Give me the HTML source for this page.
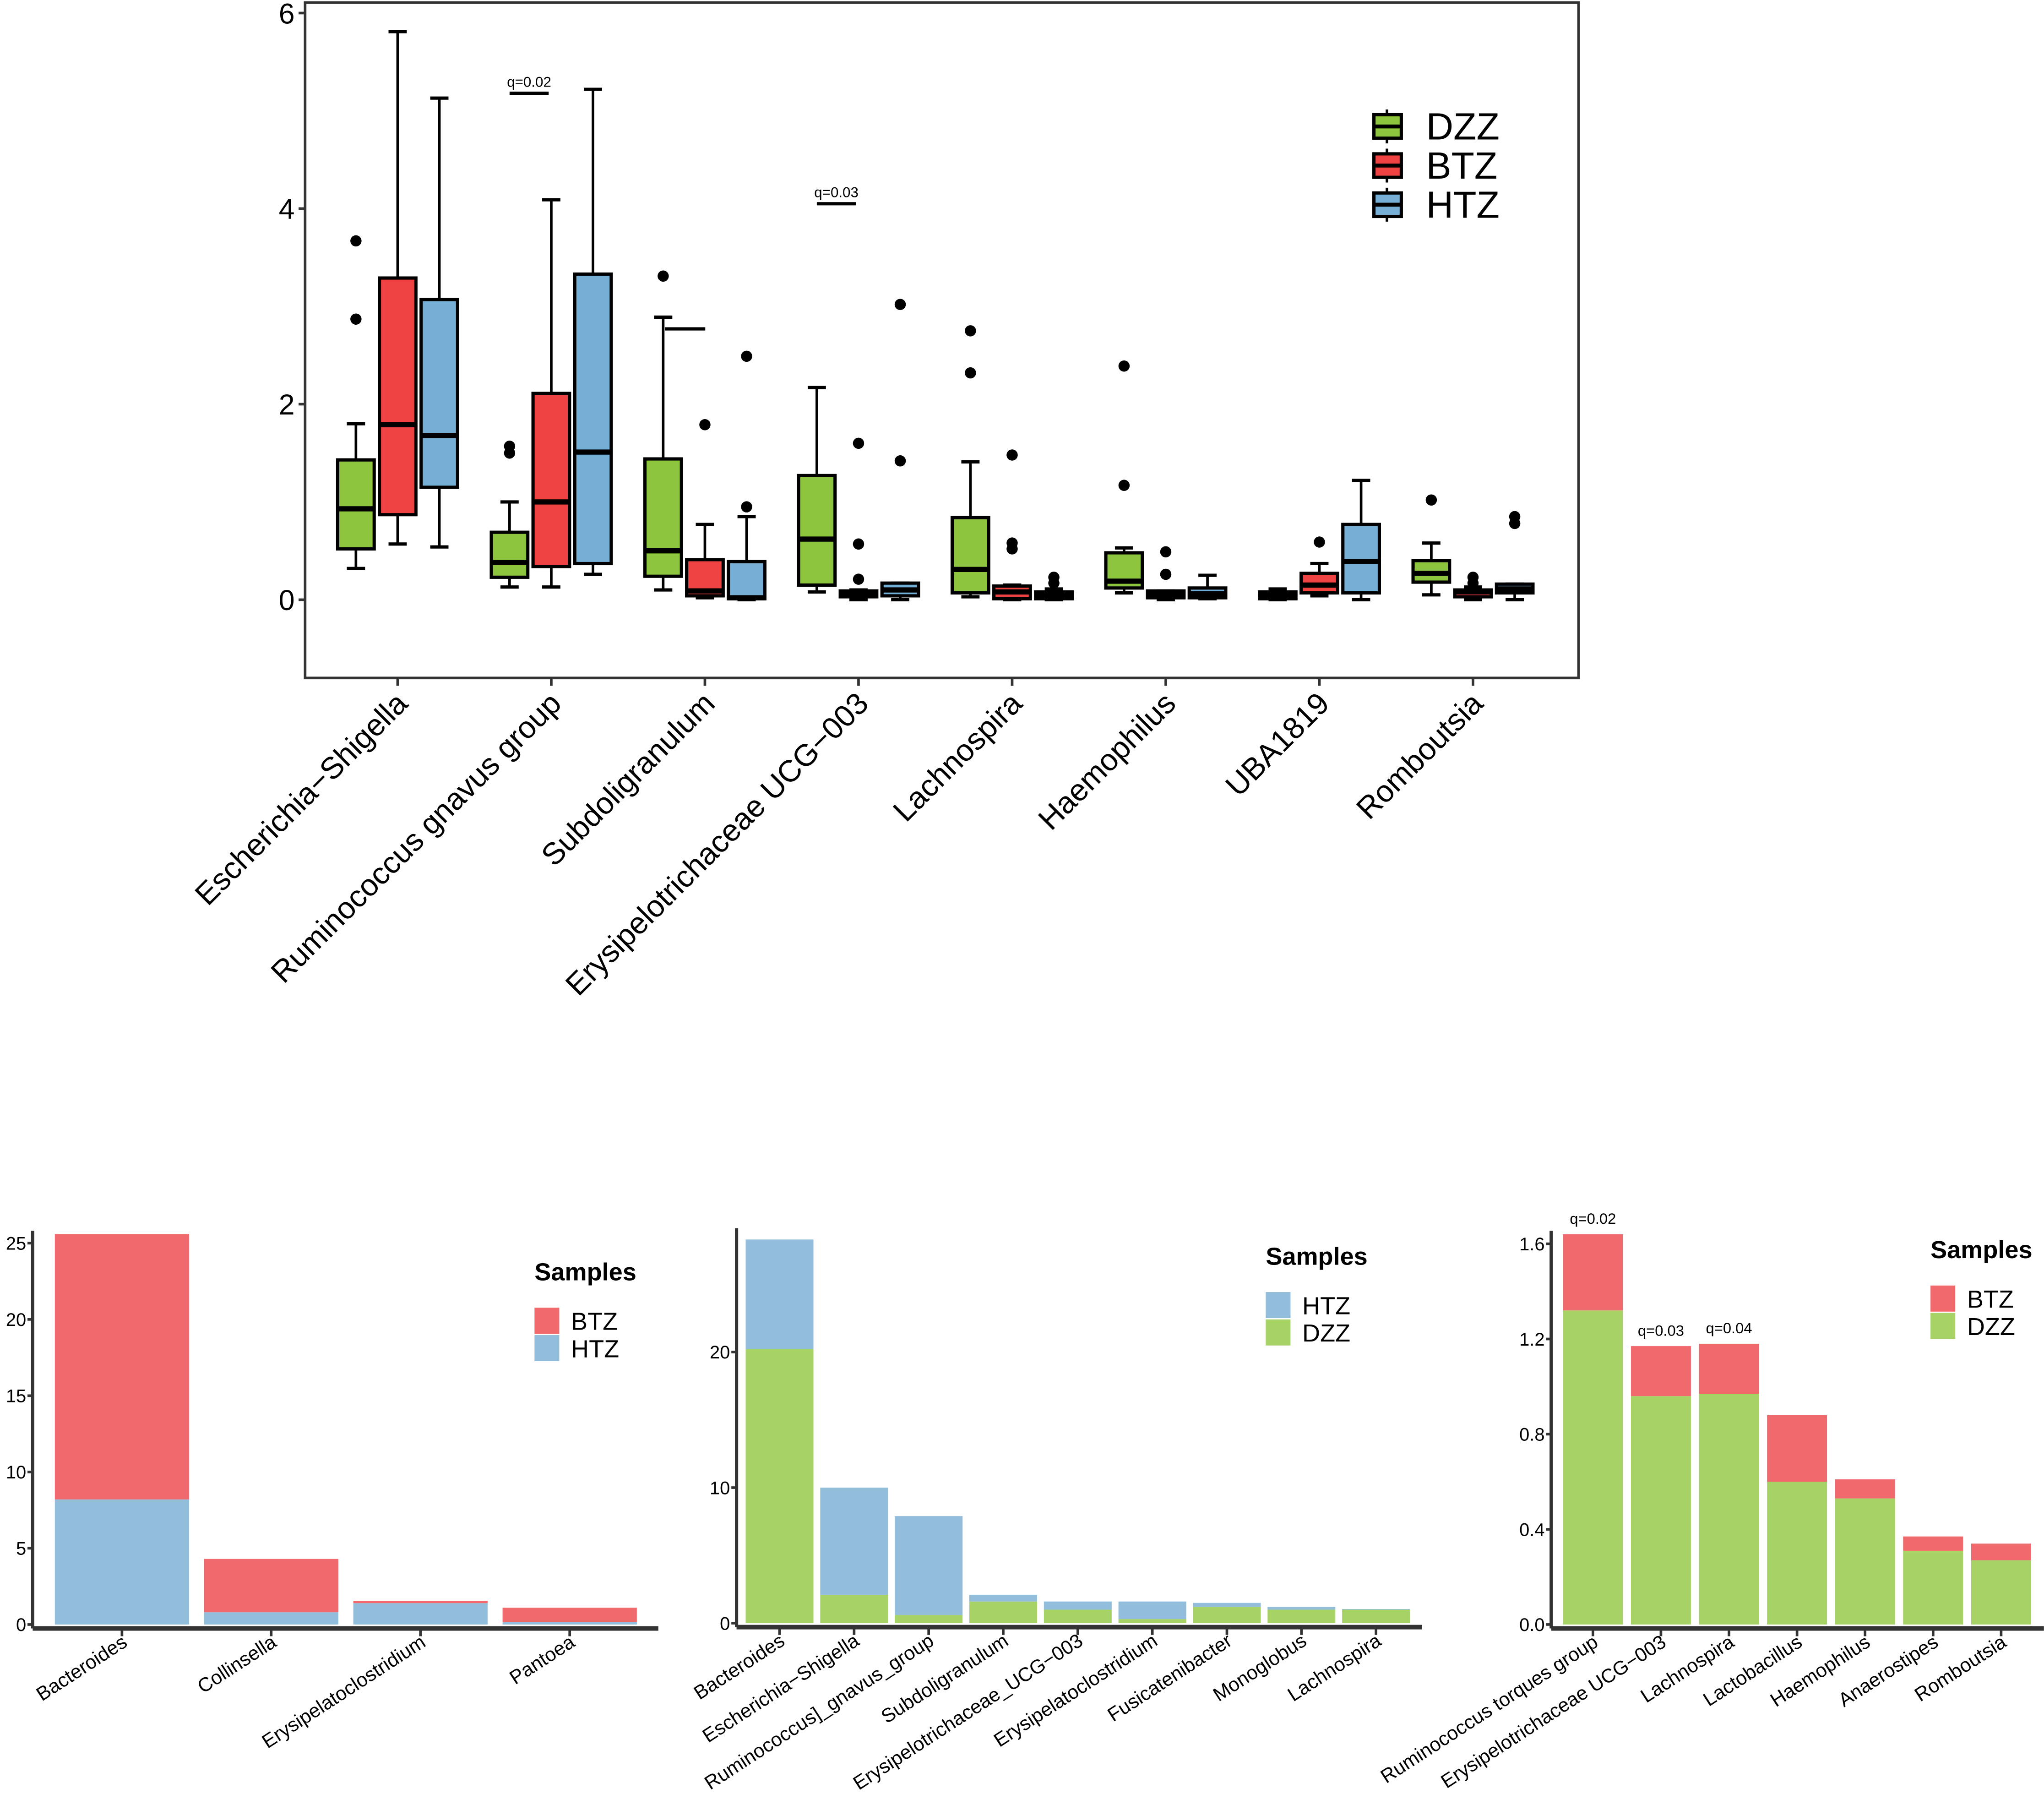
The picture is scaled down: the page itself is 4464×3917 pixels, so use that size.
<!DOCTYPE html>
<html><head><meta charset="utf-8"><style>
html,body{margin:0;padding:0;background:#fff;}
svg{display:block;font-family:"Liberation Sans",Arial,sans-serif;}
</style></head><body>
<svg id="fig" width="4464" height="3917" viewBox="0 0 1568 1376" xmlns="http://www.w3.org/2000/svg">
<rect x="0" y="0" width="1568" height="1376" fill="#fff"/>
<g id="top"></g>
<g id="b1"></g>
<g id="b2"></g>
<g id="b3"></g>
</svg>
<script>
// ---------- Top boxplot data ----------
const boxCategories = ["Escherichia\u2212Shigella","Ruminococcus gnavus group","Subdoligranulum","Erysipelotrichaceae UCG\u2212003","Lachnospira","Haemophilus","UBA1819","Romboutsia"];
const boxGroups = ["DZZ","BTZ","HTZ"];
// [whiskerLow, q1, median, q3, whiskerHigh] per category
const dzzStats = [[0.32,0.52,0.93,1.43,1.8],[0.13,0.23,0.38,0.69,1.0],[0.1,0.24,0.5,1.44,2.89],[0.08,0.15,0.62,1.27,2.17],[0.03,0.07,0.31,0.84,1.41],[0.07,0.12,0.19,0.48,0.53],[0,0.01,0.04,0.08,0.11],[0.05,0.18,0.27,0.4,0.58]];
const btzStats = [[0.57,0.87,1.79,3.29,5.81],[0.13,0.34,1.0,2.11,4.09],[0.02,0.04,0.09,0.41,0.77],[0,0.03,0.06,0.09,0.1],[0,0.01,0.08,0.14,0.15],[0,0.02,0.05,0.09,0.09],[0.04,0.07,0.15,0.27,0.37],[0,0.03,0.08,0.1,0.13]];
const htzStats = [[0.54,1.15,1.68,3.07,5.13],[0.26,0.37,1.51,3.33,5.22],[0,0.01,0.02,0.39,0.85],[0,0.04,0.1,0.17,0.17],[0,0.01,0.04,0.08,0.11],[0.01,0.02,0.06,0.12,0.25],[0,0.07,0.39,0.77,1.22],[0,0.07,0.11,0.16,0.16]];
const dzzOutliers = [[2.87,3.67],[1.5,1.57],[3.31],[],[2.32,2.75],[1.17,2.39],[],[1.02]];
const btzOutliers = [[],[],[1.79],[0.21,0.57,1.6],[0.52,0.58,1.48],[0.26,0.49],[0.59],[0.17,0.23]];
const htzOutliers = [[],[],[0.95,2.49],[1.42,3.02],[0.17,0.23],[],[],[0.78,0.85]];
const boxTicks = [0,2,4,6];
const boxAnnotations = [["q=0.02",1,5.18],["q=0.03",3,4.05]];

// ---------- Bottom bar data ----------
const bar1Categories = ["Bacteroides","Collinsella","Erysipelatoclostridium","Pantoea"];
const bar1Lower = [8.2,0.8,1.4,0.15];   // HTZ
const bar1Upper = [17.4,3.5,0.15,0.95]; // BTZ
const bar1Ticks = [0,5,10,15,20,25];

const bar2Categories = ["Bacteroides","Escherichia\u2212Shigella","Ruminococcus]_gnavus_group","Subdoligranulum","Erysipelotrichaceae_UCG\u2212003","Erysipelatoclostridium","Fusicatenibacter","Monoglobus","Lachnospira"];
const bar2Lower = [20.2,2.1,0.6,1.6,1.0,0.3,1.2,1.0,1.0];   // DZZ
const bar2Upper = [8.1,7.9,7.3,0.5,0.6,1.3,0.3,0.2,0.05];   // HTZ
const bar2Ticks = [0,10,20];

const bar3Categories = ["Ruminococcus torques group","Erysipelotrichaceae UCG\u2212003","Lachnospira","Lactobacillus","Haemophilus","Anaerostipes","Romboutsia"];
const bar3Lower = [1.32,0.96,0.97,0.60,0.53,0.31,0.27]; // DZZ
const bar3Upper = [0.32,0.21,0.21,0.28,0.08,0.06,0.07]; // BTZ
const bar3Ticks = ["0.0","0.4","0.8","1.2","1.6"];
const bar3Annotations = [["q=0.02",0],["q=0.03",1],["q=0.04",2]];

const NS="http://www.w3.org/2000/svg";
function mk(parent,tag,attrs,text){const e=document.createElementNS(NS,tag);for(const k in attrs)e.setAttribute(k,attrs[k]);if(text!==undefined)e.textContent=text;parent.appendChild(e);return e;}

// ---------- Top chart ----------
(function(){
const g=document.getElementById('top');
const yS=v=>460-75*v;
const xC=i=>305+i*117.86;
const colors=["#8dc53e","#ef4343","#75afd5"];
const stats=[dzzStats,btzStats,htzStats];
const outs=[dzzOutliers,btzOutliers,htzOutliers];
const offs=[-32,0,32];
let f=mk(g,'rect',{x:234,y:2,width:977,height:518,fill:'none',stroke:'#333',"stroke-width":2});


boxTicks.forEach(t=>{
 let l=mk(g,'line',{x1:229,x2:234,y1:yS(t),y2:yS(t),stroke:'#333',"stroke-width":2});
 
 
 let tx=mk(g,'text',{x:226,y:yS(t)+8,"text-anchor":"end","font-size":22,fill:'#000'},String(t));
 
 
});
boxCategories.forEach((c,i)=>{
 let l=mk(g,'line',{x1:xC(i),x2:xC(i),y1:520,y2:526,stroke:'#333',"stroke-width":2});
 
 
 let tx=mk(g,'text',{x:xC(i)+9,y:541,"text-anchor":"end","font-size":23.5,fill:'#000',transform:`rotate(-45 ${xC(i)+9} 541)`},c);
 
 
 for(let k=0;k<3;k++){
  const s=stats[k][i]; const x=xC(i)+offs[k]; const w=28;
  const bg=mk(g,'g',{});
  
  
  mk(bg,'line',{x1:x,x2:x,y1:yS(s[0]),y2:yS(s[4]),stroke:'#000',"stroke-width":2});
  mk(bg,'line',{x1:x-7,x2:x+7,y1:yS(s[0]),y2:yS(s[0]),stroke:'#000',"stroke-width":2.5});
  mk(bg,'line',{x1:x-7,x2:x+7,y1:yS(s[4]),y2:yS(s[4]),stroke:'#000',"stroke-width":2.5});
  mk(bg,'rect',{x:x-w/2,y:yS(s[3]),width:w,height:Math.max(yS(s[1])-yS(s[3]),1),fill:colors[k],stroke:'#000',"stroke-width":2.5});
  mk(bg,'line',{x1:x-w/2,x2:x+w/2,y1:yS(s[2]),y2:yS(s[2]),stroke:'#000',"stroke-width":4});
  outs[k][i].forEach(o=>{
   let d=mk(g,'circle',{cx:x,cy:yS(o),r:4.3,fill:'#000'});
   
   
  });
 }
});
let cap=mk(g,'line',{x1:510,x2:541,y1:yS(2.77),y2:yS(2.77),stroke:'#000',"stroke-width":2.5});


boxAnnotations.forEach(a=>{
 const cx=xC(a[1])-17;
 let l=mk(g,'line',{x1:cx-15,x2:cx+15,y1:yS(a[2]),y2:yS(a[2]),stroke:'#000',"stroke-width":2.5});
 
 
 let t=mk(g,'text',{x:cx,y:yS(a[2])-5,"text-anchor":"middle","font-size":11,fill:'#000'},a[0]);
 
 
});
boxGroups.forEach((n,k)=>{
 const y=97+k*30;
 const lg=mk(g,'g',{});
 
 
 mk(lg,'line',{x1:1064,x2:1064,y1:y-13,y2:y+13,stroke:'#000',"stroke-width":2});
 mk(lg,'rect',{x:1054,y:y-9,width:21,height:18,fill:colors[k],stroke:'#000',"stroke-width":2.5});
 mk(lg,'line',{x1:1054,x2:1075,y1:y,y2:y,stroke:'#000',"stroke-width":3});
 mk(lg,'text',{x:1094,y:y+10,"font-size":29,fill:'#000'},n);
});
})();

// ---------- Bottom bar charts ----------
function barChart(id,opt){
 const g=document.getElementById(id);
 const yS=v=>opt.y0-opt.k*v;
 let ax=mk(g,'line',{x1:opt.ax,x2:opt.ax,y1:opt.top,y2:opt.y0+3,stroke:'#333',"stroke-width":2.5});
 
 
 let xa=mk(g,'line',{x1:opt.ax,x2:opt.xEnd,y1:opt.y0+3,y2:opt.y0+3,stroke:'#333',"stroke-width":3.5});
 
 
 opt.ticks.forEach(t=>{
  const v=parseFloat(t);
  let l=mk(g,'line',{x1:opt.ax-4,x2:opt.ax,y1:yS(v),y2:yS(v),stroke:'#333',"stroke-width":2});
  
  
  let tx=mk(g,'text',{x:opt.ax-5,y:yS(v)+5,"text-anchor":"end","font-size":14,fill:'#000'},String(t));
  
  
 });
 opt.cats.forEach((c,i)=>{
  const x=opt.x0+i*opt.step; const cx=x+opt.w/2;
  let r1=mk(g,'rect',{x:x,y:yS(opt.lower[i]),width:opt.w,height:opt.k*opt.lower[i],fill:opt.cl});
  
  
  let r2=mk(g,'rect',{x:x,y:yS(opt.lower[i]+opt.upper[i]),width:opt.w,height:opt.k*opt.upper[i],fill:opt.cu});
  
  
  let tk=mk(g,'line',{x1:cx,x2:cx,y1:opt.y0+3,y2:opt.y0+9,stroke:'#333',"stroke-width":2});
  
  
  let tx=mk(g,'text',{x:cx+5,y:opt.y0+16,"text-anchor":"end","font-size":15,fill:'#000',transform:`rotate(-33 ${cx+5} ${opt.y0+16})`},c);
  
  
 });
 if(opt.ann){opt.ann.forEach(a=>{
  const i=a[1]; const cx=opt.x0+i*opt.step+opt.w/2;
  let t=mk(g,'text',{x:cx,y:yS(opt.lower[i]+opt.upper[i])-8,"text-anchor":"middle","font-size":11.5,fill:'#000'},a[0]);
  
  
 });}
 let st=mk(g,'text',{x:opt.lx,y:opt.ly,"font-size":19,"font-weight":"bold",fill:'#000'},'Samples');
 
 
 [[opt.nu,opt.cu],[opt.nl,opt.cl]].forEach((e,j)=>{
  const y=opt.ly+21+j*21;
  const lg=mk(g,'g',{});
  
  
  mk(lg,'rect',{x:opt.lx,y:y,width:19,height:20,fill:e[1]});
  mk(lg,'text',{x:opt.lx+28,y:y+17,"font-size":19,fill:'#000'},e[0]);
 });
}
const RED="#f0696c",BLUE="#92bddb",GREEN="#a7d266";
barChart('b1',{y0:1246,k:11.7,ax:25,top:944,xEnd:505,x0:42,step:114.5,w:103,cats:bar1Categories,lower:bar1Lower,upper:bar1Upper,ticks:bar1Ticks,cl:BLUE,cu:RED,nl:'HTZ',nu:'BTZ',lx:410,ly:982});
barChart('b2',{y0:1245,k:10.4,ax:565,top:942,xEnd:1091,x0:572,step:57.2,w:52,cats:bar2Categories,lower:bar2Lower,upper:bar2Upper,ticks:bar2Ticks,cl:GREEN,cu:BLUE,nl:'DZZ',nu:'HTZ',lx:971,ly:970});
barChart('b3',{y0:1246,k:182.5,ax:1190,top:944,xEnd:1568,x0:1199,step:52.2,w:46,cats:bar3Categories,lower:bar3Lower,upper:bar3Upper,ticks:bar3Ticks,cl:GREEN,cu:RED,nl:'DZZ',nu:'BTZ',lx:1481,ly:965,ann:bar3Annotations});
</script>
</body></html>
